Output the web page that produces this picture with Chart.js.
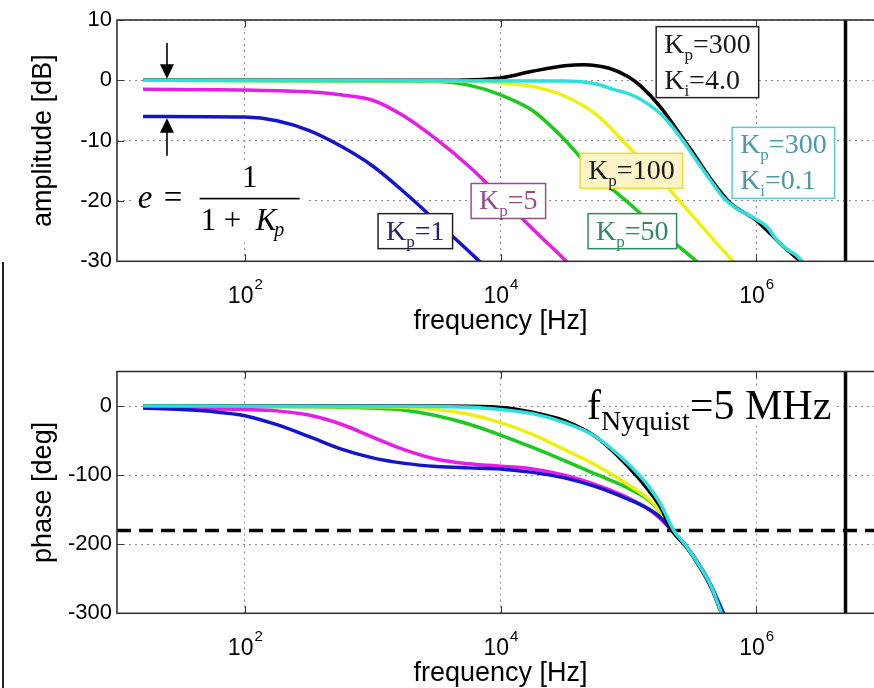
<!DOCTYPE html>
<html>
<head>
<meta charset="utf-8">
<title>Closed-loop amplitude and phase</title>
<script src="https://cdn.jsdelivr.net/npm/chart.js@4.4.0/dist/chart.umd.min.js"></script>
<style>
  html, body { margin: 0; padding: 0; background: #fff; overflow: hidden; }
  #wrap { position: relative; width: 874px; height: 688px; overflow: hidden; }
  #wrap canvas { position: absolute; left: 0; }
  #ampCanvas { top: 0; }
  #phaseCanvas { top: 344px; }
  #edge { position: absolute; left: 2px; top: 262px; width: 2px; height: 426px; background: #222; }
</style>
</head>
<body>
<div id="wrap">
  <canvas id="ampCanvas" width="900" height="344"></canvas>
  <canvas id="phaseCanvas" width="900" height="344"></canvas>
  <div id="edge"></div>
</div>
<script>
// ---- axis ticks ----
const freqTicks = [1e2, 1e4, 1e6];
const freqTickExp = ['2', '4', '6'];
const ampTicks = [-30, -20, -10, 0, 10];
const phaseTicks = [-300, -200, -100, 0];

// ---- amplitude [dB] ----
const ampFreqKp1 = [16, 100, 178, 316, 562, 1000, 1778, 3162, 5623, 7943];
const ampKp1 = [-6.0, -6.1, -6.7, -8.3, -10.9, -14.2, -18.6, -23.4, -28.3, -31.3];

const ampFreqKp5 = [16, 100, 316, 562, 1000, 1778, 3162, 5623, 1e4, 17783, 31623, 39811];
const ampKp5 = [-1.5, -1.6, -1.9, -2.4, -3.3, -6.0, -9.8, -14.2, -19.3, -24.6, -29.7, -31.8];

const ampFreqKp50 = [16, 3162, 5623, 1e4, 17783, 31623, 56234, 1e5, 177828, 316228, 398107];
const ampKp50 = [0, -0.2, -0.8, -2.4, -5.0, -9.8, -15.7, -20.3, -25.0, -29.4, -31.2];

const ampFreqKp100 = [16, 5623, 1e4, 17783, 31623, 56234, 1e5, 177828, 316228, 562341, 794328];
const ampKp100 = [0, -0.1, -0.4, -1.0, -2.6, -5.7, -11.0, -16.4, -22.4, -28.4, -31.8];

const ampFreqKp300Ki4 = [16, 3162, 1e4, 17783, 31623, 44668, 70795, 1e5, 125893, 177828, 251189, 316228, 446684, 630957, 1e6, 1584893, 2511886];
const ampKp300Ki4 = [0, 0, 0.4, 1.5, 2.4, 2.6, 2.0, 0.6, -1.0, -4.4, -8.8, -11.8, -16.5, -20.4, -23.2, -27.3, -31.0];

const ampFreqKp300Ki01 = [16, 31623, 56234, 75858, 1e5, 125893, 186209, 257040, 346737, 446684, 562341, 707946, 954993, 1202264, 1445440, 1737801, 2089296, 2511886];
const ampKp300Ki01 = [0, -0.1, -0.6, -1.5, -2.2, -3.2, -5.9, -9.5, -13.5, -16.8, -19.6, -21.3, -22.8, -24.2, -26.4, -28.0, -29.1, -31.0];

// ---- phase [deg] ----
const phaseFreqKp1 = [16, 32, 56, 100, 178, 316, 562, 1000, 1778, 3162, 5623, 1e4, 17783, 31623, 56234, 1e5, 141254, 177828, 218776, 281838, 363078, 446684, 555904, 588844];
const phaseKp1 = [-3, -5, -8, -14, -27, -44, -62, -75, -83, -87.5, -89.5, -91, -96, -104, -117, -135, -148, -161, -180, -202, -231, -261, -300, -310];

const phaseFreqKp5 = [16, 32, 100, 178, 316, 562, 1000, 1778, 3162, 5623, 1e4, 17783, 31623, 56234, 1e5, 158489, 218776, 281838, 363078, 446684, 537032, 575440];
const phaseKp5 = [-3, -3.5, -5, -7, -13, -26, -45, -63.5, -77, -83.5, -87, -91, -100, -114, -133, -155, -180, -203, -233, -263, -300, -312];

const phaseFreqKp50 = [16, 316, 1000, 1778, 3162, 5623, 1e4, 17783, 31623, 56234, 1e5, 158489, 218776, 281838, 363078, 446684, 537032, 575440];
const phaseKp50 = [0, -1, -3, -6, -14, -26, -42, -60, -79, -99, -119, -143, -180, -203, -233, -263, -300, -312];

const phaseFreqKp100 = [16, 1000, 3162, 5623, 1e4, 17783, 31623, 56234, 1e5, 158489, 218776, 281838, 363078, 446684, 537032, 575440];
const phaseKp100 = [0, -1, -5, -12, -24, -41, -63, -86, -114, -142, -180, -203, -233, -263, -300, -312];

const phaseFreqKp300Ki4 = [16, 3162, 1e4, 17783, 31623, 56234, 1e5, 141254, 177828, 218776, 281838, 363078, 446684, 537032, 575440];
const phaseKp300Ki4 = [0, 0, -2, -9, -21, -45, -88, -120, -146, -180, -203, -233, -263, -300, -312];

const phaseFreqKp300Ki01 = [16, 3162, 6918, 17783, 31623, 56234, 1e5, 141254, 177828, 226464, 281838, 363078, 446684, 537032, 575440];
const phaseKp300Ki01 = [0, -0.5, -2.5, -11, -24, -45, -84, -114, -141, -180, -202, -232, -262, -300, -312];

// ---- reference lines ----
const nyquistFreq = [5e6, 5e6];
const nyquistAmp = [-30, 10];
const nyquistPhase = [-300, 50];
const limitFreq = [10, 1e7];
const limitPhase = [-180, -180];

const FONT_SANS = "'Liberation Sans', Arial, Helvetica, sans-serif";
const FONT_SERIF = "'Liberation Serif', 'Times New Roman', Times, serif";

const COLORS = {
  kp1: '#1414cc',
  kp5: '#e41ee4',
  kp50: '#1ec81e',
  kp100: '#f0f010',
  kp300ki4: '#000000',
  kp300ki01: '#2fdede'
};

function pts(xs, ys) {
  return xs.map((x, i) => ({ x, y: ys[i] }));
}

function curve(xs, ys, color) {
  return {
    data: pts(xs, ys),
    borderColor: color,
    borderWidth: 3.5,
    pointRadius: 0,
    fill: false,
    cubicInterpolationMode: 'monotone'
  };
}

function refLine(xs, ys, width, dash) {
  return {
    data: pts(xs, ys),
    borderColor: '#000',
    borderWidth: width,
    borderDash: dash,
    pointRadius: 0,
    fill: false,
    tension: 0
  };
}

function chartOptions(yMin, yMax, yTicks, padTop, plotBottom, canvasH, xTitle, yTitle) {
  return {
    responsive: false,
    animation: false,
    events: [],
    layout: { autoPadding: false, padding: { left: 0, right: 16, top: padTop, bottom: 0 } },
    plugins: {
      legend: { display: false },
      tooltip: { enabled: false },
      frame: { xTitle, yTitle }
    },
    scales: {
      x: {
        type: 'logarithmic',
        min: 10,
        max: 1e7,
        afterBuildTicks: s => { s.ticks = freqTicks.map(v => ({ value: v })); },
        afterFit: s => { s.height = canvasH - plotBottom; },
        ticks: { display: false },
        grid: { color: '#8a8a8a', lineWidth: 1, drawTicks: false },
        border: { display: false, dash: [2, 4] }
      },
      y: {
        min: yMin,
        max: yMax,
        afterBuildTicks: s => { s.ticks = yTicks.map(v => ({ value: v })); },
        afterFit: s => { s.width = 117; },
        ticks: { color: '#000', font: { family: FONT_SANS, size: 22 }, padding: 5 },
        grid: { color: '#8a8a8a', lineWidth: 1, drawTicks: false },
        border: { display: false, dash: [2, 4] }
      }
    }
  };
}

// box, inward ticks, tick labels with exponents, axis titles
const framePlugin = {
  id: 'frame',
  afterDraw(chart, args, opts) {
    const { ctx, chartArea: a, scales: { x, y } } = chart;
    ctx.save();
    ctx.strokeStyle = '#333';
    ctx.lineWidth = 1;
    ctx.beginPath();
    x.ticks.forEach(t => {
      const px = Math.round(x.getPixelForValue(t.value)) + 0.5;
      ctx.moveTo(px, a.bottom); ctx.lineTo(px, a.bottom - 7);
      ctx.moveTo(px, a.top); ctx.lineTo(px, a.top + 7);
    });
    y.ticks.forEach(t => {
      const py = Math.round(y.getPixelForValue(t.value)) + 0.5;
      ctx.moveTo(a.left, py); ctx.lineTo(a.left + 7, py);
      ctx.moveTo(a.right, py); ctx.lineTo(a.right - 7, py);
    });
    ctx.stroke();
    ctx.lineWidth = 1.6;
    ctx.strokeRect(a.left, a.top, a.right - a.left, a.bottom - a.top);

    ctx.fillStyle = '#000';
    ctx.textBaseline = 'alphabetic';
    ctx.textAlign = 'left';
    x.ticks.forEach((t, i) => {
      const px = x.getPixelForValue(t.value);
      ctx.font = `23px ${FONT_SANS}`;
      const wb = ctx.measureText('10').width;
      ctx.font = `15px ${FONT_SANS}`;
      const we = ctx.measureText(freqTickExp[i]).width;
      const left = px - (wb + we) / 2;
      ctx.font = `23px ${FONT_SANS}`;
      ctx.fillText('10', left, a.bottom + 42);
      ctx.font = `15px ${FONT_SANS}`;
      ctx.fillText(freqTickExp[i], left + wb + 1, a.bottom + 28);
    });

    ctx.font = `27px ${FONT_SANS}`;
    ctx.textAlign = 'center';
    ctx.fillText(opts.xTitle, (a.left + a.right) / 2, a.bottom + 68);
    ctx.translate(51, (a.top + a.bottom) / 2);
    ctx.rotate(-Math.PI / 2);
    ctx.fillText(opts.yTitle, 0, 0);
    ctx.restore();
  }
};

// text like K_p=300 : [main, subscript, rest]
function subWidth(ctx, part, size) {
  ctx.font = `${size}px ${FONT_SERIF}`;
  let w = ctx.measureText(part[0]).width + ctx.measureText(part[2]).width;
  ctx.font = `${Math.round(size * 0.6)}px ${FONT_SERIF}`;
  return w + ctx.measureText(part[1]).width;
}

function drawSub(ctx, part, x, y, size, subSize, subDrop) {
  ctx.textAlign = 'left';
  ctx.font = `${size}px ${FONT_SERIF}`;
  ctx.fillText(part[0], x, y);
  x += ctx.measureText(part[0]).width;
  ctx.font = `${subSize}px ${FONT_SERIF}`;
  ctx.fillText(part[1], x, y + subDrop);
  x += ctx.measureText(part[1]).width;
  ctx.font = `${size}px ${FONT_SERIF}`;
  ctx.fillText(part[2], x, y);
  return x + ctx.measureText(part[2]).width;
}

// label boxes on the amplitude plot, anchored at their top-left corner (Hz, dB)
const labelBoxes = [
  { f: 1102, db: -22.1, lines: [['K', 'p', '=1']], ink: '#23236e', edge: '#222', fill: '#fff' },
  { f: 5888, db: -17.1, lines: [['K', 'p', '=5']], ink: '#9a4a8e', edge: '#93508a', fill: '#fff' },
  { f: 41976, db: -12.1, lines: [['K', 'p', '=100']], ink: '#1a1a1a', edge: '#eadc3a', fill: '#fbf4c6' },
  { f: 48420, db: -22.1, lines: [['K', 'p', '=50']], ink: '#2e8a5e', edge: '#2e8a5e', fill: '#fff' },
  { f: 165100, db: 8.9, lines: [['K', 'p', '=300'], ['K', 'i', '=4.0']], ink: '#1a1a1a', edge: '#222', fill: '#fff' },
  { f: 648600, db: -7.8, lines: [['K', 'p', '=300'], ['K', 'i', '=0.1']], ink: '#4d9aa6', edge: '#5cc8d0', fill: '#fff' }
];
const eqnAnchor = { f: 14.5, db: -19.6 };
const arrowFreq = 24.6;
const arrowTop = [6.2, 0];
const arrowBottom = [-12.5, -6.05];

const ampNotes = {
  id: 'ampNotes',
  afterDatasetsDraw(chart) {
    const { ctx, scales: { x, y } } = chart;
    ctx.save();
    ctx.textBaseline = 'alphabetic';
    labelBoxes.forEach(b => {
      const left = x.getPixelForValue(b.f);
      const top = y.getPixelForValue(b.db);
      const w = Math.max(...b.lines.map(l => subWidth(ctx, l, 28))) + 16;
      const h = b.lines.length === 1 ? 35 : 71;
      ctx.fillStyle = b.fill;
      ctx.fillRect(left, top, w, h);
      ctx.strokeStyle = b.edge;
      ctx.lineWidth = 1.5;
      ctx.strokeRect(left, top, w, h);
      ctx.fillStyle = b.ink;
      b.lines.forEach((l, i) => drawSub(ctx, l, left + 8, top + 26 + i * 36, 28, 17, 7));
    });

    // e = 1 / (1 + K_p)
    const ex = x.getPixelForValue(eqnAnchor.f);
    const ey = y.getPixelForValue(eqnAnchor.db);
    ctx.fillStyle = '#fff';
    ctx.fillRect(ex - 5, ey - 36, 174, 80);
    ctx.fillStyle = '#000';
    ctx.textAlign = 'left';
    ctx.font = `italic 33px ${FONT_SERIF}`;
    ctx.fillText('e', ex, ey + 9);
    ctx.font = `33px ${FONT_SERIF}`;
    ctx.fillText('=', ex + 26, ey + 9);
    ctx.fillRect(ex + 62, ey - 0.75, 100, 1.6);
    ctx.font = `31px ${FONT_SERIF}`;
    ctx.textAlign = 'center';
    ctx.fillText('1', ex + 112, ey - 12);
    ctx.textAlign = 'left';
    ctx.fillText('1', ex + 63, ey + 31);
    ctx.fillText('+', ex + 86, ey + 31);
    ctx.font = `italic 31px ${FONT_SERIF}`;
    ctx.fillText('K', ex + 118, ey + 31);
    const kw = ctx.measureText('K').width;
    ctx.font = `italic 20px ${FONT_SERIF}`;
    ctx.fillText('p', ex + 116 + kw, ey + 37);

    // arrows marking the static error
    const ax = x.getPixelForValue(arrowFreq);
    const drawArrow = (fromDb, toDb) => {
      const y0 = y.getPixelForValue(fromDb);
      const y1 = y.getPixelForValue(toDb);
      const dir = Math.sign(y1 - y0);
      ctx.strokeStyle = '#000';
      ctx.lineWidth = 1.6;
      ctx.beginPath();
      ctx.moveTo(ax, y0);
      ctx.lineTo(ax, y1 - dir * 14);
      ctx.stroke();
      ctx.beginPath();
      ctx.moveTo(ax, y1 - dir * 1.5);
      ctx.lineTo(ax - 7, y1 - dir * 16);
      ctx.lineTo(ax + 7, y1 - dir * 16);
      ctx.closePath();
      ctx.fill();
    };
    drawArrow(arrowTop[0], arrowTop[1]);
    drawArrow(arrowBottom[0], arrowBottom[1]);
    ctx.restore();
  }
};

const nyqTextAnchor = { f: 47600, deg: -19 };

const phaseNotes = {
  id: 'phaseNotes',
  afterDatasetsDraw(chart) {
    const { ctx, scales: { x, y } } = chart;
    const px = x.getPixelForValue(nyqTextAnchor.f);
    const py = y.getPixelForValue(nyqTextAnchor.deg);
    ctx.save();
    ctx.textBaseline = 'alphabetic';
    ctx.textAlign = 'left';
    ctx.font = `42px ${FONT_SERIF}`;
    const fw = ctx.measureText('f').width;
    ctx.font = `28px ${FONT_SERIF}`;
    const nw = ctx.measureText('Nyquist').width;
    ctx.font = `42px ${FONT_SERIF}`;
    const rw = ctx.measureText('=5 MHz').width;
    ctx.fillStyle = '#fff';
    ctx.fillRect(px + fw + nw - 1, py - 31, rw + 4, 37);
    ctx.fillStyle = '#000';
    drawSub(ctx, ['f', 'Nyquist', '=5 MHz'], px, py, 42, 28, 11);
    ctx.restore();
  }
};

new Chart(document.getElementById('ampCanvas'), {
  type: 'line',
  data: {
    datasets: [
      curve(ampFreqKp300Ki01, ampKp300Ki01, COLORS.kp300ki01),
      curve(ampFreqKp300Ki4, ampKp300Ki4, COLORS.kp300ki4),
      curve(ampFreqKp100, ampKp100, COLORS.kp100),
      curve(ampFreqKp50, ampKp50, COLORS.kp50),
      curve(ampFreqKp5, ampKp5, COLORS.kp5),
      curve(ampFreqKp1, ampKp1, COLORS.kp1),
      refLine(nyquistFreq, nyquistAmp, 3.5, [])
    ]
  },
  options: chartOptions(-30, 10, ampTicks, 20, 261.3, 344, 'frequency [Hz]', 'amplitude [dB]'),
  plugins: [ampNotes, framePlugin]
});

new Chart(document.getElementById('phaseCanvas'), {
  type: 'line',
  data: {
    datasets: [
      curve(phaseFreqKp300Ki01, phaseKp300Ki01, COLORS.kp300ki01),
      curve(phaseFreqKp300Ki4, phaseKp300Ki4, COLORS.kp300ki4),
      curve(phaseFreqKp1, phaseKp1, COLORS.kp1),
      curve(phaseFreqKp5, phaseKp5, COLORS.kp5),
      curve(phaseFreqKp100, phaseKp100, COLORS.kp100),
      curve(phaseFreqKp50, phaseKp50, COLORS.kp50),
      refLine(nyquistFreq, nyquistPhase, 3.5, []),
      refLine(limitFreq, limitPhase, 3.5, [14, 8])
    ]
  },
  options: chartOptions(-300, 50, phaseTicks, 27.5, 269.3, 344, 'frequency [Hz]', 'phase [deg]'),
  plugins: [phaseNotes, framePlugin]
});
</script>
</body>
</html>
